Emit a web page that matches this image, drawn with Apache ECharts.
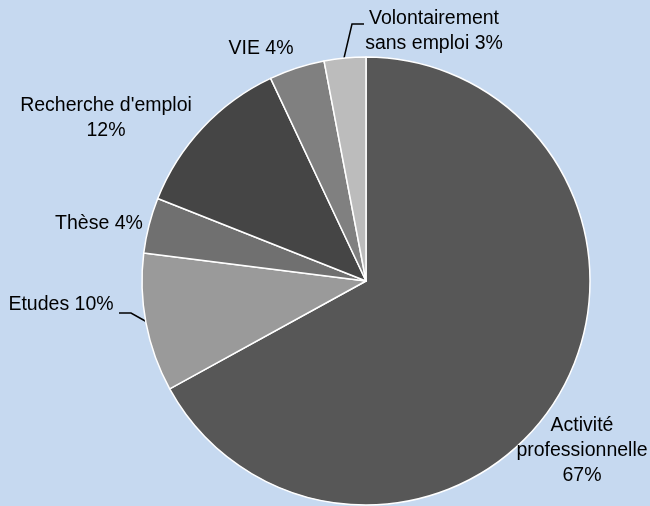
<!DOCTYPE html>
<html>
<head>
<meta charset="utf-8">
<script src="https://cdn.jsdelivr.net/npm/echarts@6/dist/echarts.min.js"></script>
<style>
  html, body { margin: 0; padding: 0; background: #c6d9f0; }
  #chart { width: 650px; height: 506px; }
</style>
</head>
<body>
<div id="chart"></div>
<script>
// Situation of graduates, in percent, clockwise from 12 o'clock
const categories = ['Activité\nprofessionnelle', 'Etudes', 'Thèse', "Recherche d'emploi", 'VIE', 'Volontairement\nsans emploi'];
const shares = [67, 10, 4, 12, 4, 3];

const sliceColors = ['#575757', '#9a9a9a', '#707070', '#454545', '#808080', '#bcbcbc'];
// label centre positions and optional leader-line points
const labelPos = [
  { x: 582, y: 451 },
  { x: 61, y: 305, line: [[147, 322], [131, 313], [119, 313]] },
  { x: 99, y: 224 },
  { x: 106, y: 118 },
  { x: 261, y: 49 },
  { x: 434, y: 31, line: [[344, 58], [352, 24], [364, 24]] }
];
const valueOnNewLine = [true, false, false, true, false, false];

const chart = echarts.init(document.getElementById('chart'), null, { renderer: 'canvas' });

chart.setOption({
  backgroundColor: '#c6d9f0',
  animation: false,
  series: [{
    type: 'pie',
    center: [366, 281],
    radius: 224,
    startAngle: 90,
    clockwise: true,
    avoidLabelOverlap: false,
    itemStyle: { borderColor: '#ffffff', borderWidth: 1.5 },
    label: {
      show: true,
      position: 'outside',
      overflow: 'none',
      fontFamily: "'Liberation Sans', Arial, sans-serif",
      fontSize: 19.5,
      lineHeight: 25,
      color: '#000000',
      align: 'center',
      formatter: p => p.name + (valueOnNewLine[p.dataIndex] ? '\n' : ' ') + p.value + '%'
    },
    labelLine: { show: true, lineStyle: { color: '#000000', width: 1.5 } },
    labelLayout: function (params) {
      const pos = labelPos[params.dataIndex];
      const res = { x: pos.x, y: pos.y, align: 'center', verticalAlign: 'middle' };
      if (pos.line) res.labelLinePoints = pos.line;
      return res;
    },
    data: categories.map((name, i) => ({
      name: name,
      value: shares[i],
      itemStyle: { color: sliceColors[i] },
      labelLine: { show: !!labelPos[i].line }
    }))
  }]
});
</script>
</body>
</html>
